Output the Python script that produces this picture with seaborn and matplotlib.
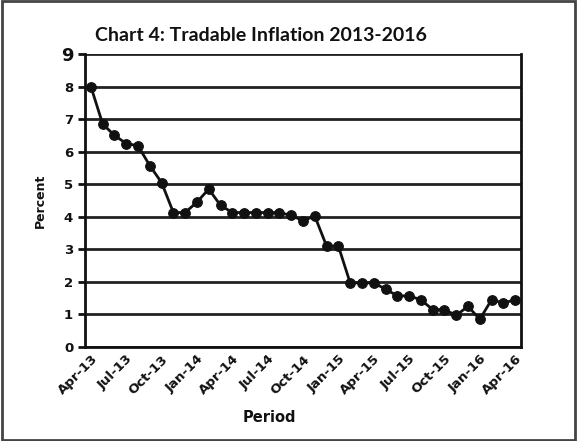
import matplotlib
matplotlib.use("Agg")
import matplotlib.pyplot as plt
import matplotlib.transforms as mtransforms
from matplotlib.patches import Rectangle
import seaborn as sns
import pandas as pd
import numpy as np

# monthly periods Apr-13 .. Apr-16
periods = ["Apr-13", "May-13", "Jun-13", "Jul-13", "Aug-13", "Sep-13", "Oct-13", "Nov-13", "Dec-13",
           "Jan-14", "Feb-14", "Mar-14", "Apr-14", "May-14", "Jun-14", "Jul-14", "Aug-14", "Sep-14",
           "Oct-14", "Nov-14", "Dec-14", "Jan-15", "Feb-15", "Mar-15", "Apr-15", "May-15", "Jun-15",
           "Jul-15", "Aug-15", "Sep-15", "Oct-15", "Nov-15", "Dec-15", "Jan-16", "Feb-16", "Mar-16",
           "Apr-16"]
inflation = [8.0, 6.85, 6.5, 6.25, 6.18, 5.57, 5.05, 4.13, 4.13,
             4.45, 4.85, 4.35, 4.13, 4.13, 4.13, 4.13, 4.13, 4.04,
             3.88, 4.02, 3.1, 3.1, 1.97, 1.97, 1.97, 1.78, 1.57,
             1.57, 1.45, 1.15, 1.15, 0.97, 1.25, 0.85, 1.45, 1.35,
             1.45]
y_ticks = list(range(0, 10))

df = pd.DataFrame({"pos": np.arange(len(periods)), "Period": periods, "Percent": inflation})

sns.set_style("white")
plt.rcParams['font.family'] = ['DejaVu Sans']
ink = '#111111'

fig = plt.figure(figsize=(5.77, 4.41), dpi=100)
ax = fig.add_axes([0.1473, 0.2132, 0.7557, 0.6644])

sns.lineplot(data=df, x="pos", y="Percent", ax=ax, color=ink, linewidth=2,
             marker='o', markersize=7, markeredgecolor=ink, zorder=5)

ax.set_xlim(-0.5, len(periods) - 0.5)
ax.set_ylim(0, 9)
ax.set_yticks(y_ticks)
ax.set_yticklabels([str(v) for v in y_ticks], fontweight='bold', fontsize=9.5, color=ink)
ax.get_yticklabels()[-1].set_fontsize(13)
ax.yaxis.grid(True, color='#222222', linewidth=2)
ax.set_axisbelow(True)

# category boundaries get tick marks, every third month gets a label
ax.set_xticks(np.arange(len(periods) + 1) - 0.5, minor=True)
ax.set_xticks(df["pos"][::3])
ax.set_xticklabels(df["Period"][::3], rotation=45, ha='right', va='top',
                   rotation_mode='anchor', fontweight='bold', fontsize=9.5, color=ink)
offset = mtransforms.ScaledTranslation(9 / 72, -2 / 72, fig.dpi_scale_trans)
for lab in ax.get_xticklabels():
    lab.set_transform(lab.get_transform() + offset)
ax.tick_params(axis='x', which='major', length=0, pad=4)
ax.tick_params(axis='x', which='minor', length=6, width=2, color=ink, direction='out')
ax.tick_params(axis='y', length=5, width=2, color=ink, direction='out', left=True)

for side in ['left', 'bottom', 'right']:
    ax.spines[side].set_color(ink)
    ax.spines[side].set_linewidth(2)
ax.spines['top'].set_visible(False)

ax.set_xlabel("Period", fontweight='bold', fontsize=10.5, color=ink)
ax.xaxis.set_label_coords(0.424, -0.215)
ax.set_ylabel("Percent", fontweight='bold', fontsize=9, color=ink)
ax.yaxis.set_label_coords(-0.087, 0.5)
fig.text(0.452, 0.939, "Chart 4: Tradable Inflation 2013-2016", ha='center', va='top',
         family=['Lato', 'DejaVu Sans'], fontweight='bold', fontsize=14, color=ink)

fig.patches.append(Rectangle((0.003, 0.003), 0.994, 0.994, transform=fig.transFigure,
                             fill=False, edgecolor='#444444', linewidth=2))

fig.savefig("out.png", dpi=100)
